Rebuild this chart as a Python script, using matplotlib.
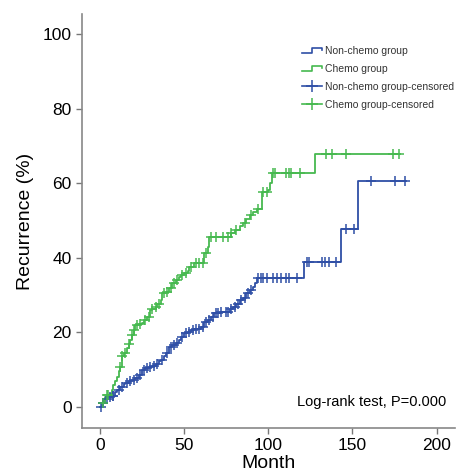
import numpy as np
import matplotlib
matplotlib.use("Agg")
import matplotlib.pyplot as plt
from matplotlib.lines import Line2D
from matplotlib.legend_handler import HandlerBase

# step curves (month of event, cumulative recurrence %)
nonchemo_t = [0, 1, 3, 5, 7, 9, 10, 12, 14, 15, 17, 19, 21, 23, 25, 27, 29, 31, 33, 35,
              36, 38, 39, 41, 43, 45, 47, 48, 50, 52, 54, 56, 58, 60, 62, 64, 66, 68, 71,
              74, 77, 79, 81, 83, 85, 87, 89, 91, 92, 93, 121, 143, 153]
nonchemo_y = [0, 1.0, 2.2, 2.5, 2.8, 4.0, 4.5, 5.4, 6.0, 6.3, 6.8, 7.2, 7.8, 8.5, 10.0, 10.3,
              10.7, 11.0, 11.6, 12.2, 12.5, 13.5, 14.3, 16.1, 16.5, 17.0, 17.9, 18.8, 19.7,
              20.2, 20.6, 20.8, 21.0, 21.5, 22.8, 23.3, 24.0, 25.1, 25.3, 25.5, 26.2, 26.8,
              27.5, 28.6, 29.1, 30.4, 31.3, 32.2, 33.1, 34.5, 38.9, 47.6, 60.6]
nonchemo_end = 181.6

chemo_t = [0, 1, 3, 4, 6, 7, 8, 9, 10, 11, 12, 13, 14, 16, 17, 18, 19, 20, 21, 23, 25, 26,
           28, 30, 31, 33, 34, 36, 37, 39, 41, 43, 45, 47, 48, 50, 52, 53, 56, 62, 64, 64.5,
           78, 80, 83, 85, 87, 89, 91, 93, 96, 96.5, 100, 101, 102, 128]
chemo_y = [0, 1.0, 2.6, 3.1, 3.5, 4.5, 5.8, 7.0, 8.0, 9.5, 10.7, 13.5, 14.3, 15.7, 16.8,
           17.9, 19.2, 20.6, 21.9, 22.2, 22.4, 23.3, 24.1, 25.9, 26.3, 26.8, 27.7, 28.6,
           30.4, 30.9, 32.0, 33.1, 34.0, 34.9, 35.3, 35.8, 36.5, 37.6, 38.5, 41.2, 42.9,
           45.6, 46.5, 47.4, 48.4, 49.2, 50.3, 51.4, 52.3, 53.2, 53.7, 57.7, 58.1, 60.0,
           62.6, 67.8]
chemo_end = 178

# censored times
nonchemo_cens = [0.5, 1.5, 2, 4, 6, 7.5, 8, 11, 13, 16, 18, 20, 22, 24, 26, 28, 30, 32, 34,
                 37, 40, 42, 44, 46, 49, 51, 53, 55, 57, 59, 61, 63, 65, 67, 69, 70, 72, 75,
                 76, 78, 80, 82, 84, 86, 88, 90, 94, 95.4, 97, 99, 103, 105, 107.5, 110.5,
                 112.5, 116.8, 123, 124, 131.8, 133.7, 136, 140, 146, 150.8, 161, 175.4, 181]
chemo_cens = [2, 4, 5, 12, 13, 15, 17, 19, 20, 22, 24, 27, 29, 31, 33, 35, 38, 40, 42, 44,
              46, 49, 51, 54, 57, 59, 61, 63, 66, 69, 73, 76, 78, 81, 86, 90, 94, 97, 99,
              103, 104, 110.5, 112.5, 113.5, 119, 134, 138, 146, 174, 177.5]

blue = "#2f4fa6"
green = "#46b94f"

plt.rcParams["font.family"] = ["Liberation Sans", "DejaVu Sans"]


def step_at(times, vals, t):
    idx = np.searchsorted(times, t, side="right") - 1
    return np.array(vals)[idx]


class StepHandler(HandlerBase):
    def create_artists(self, legend, orig_handle, xdescent, ydescent, width, height, fontsize, trans):
        x0 = -xdescent
        y0 = -ydescent
        xs = [x0, x0 + 0.5 * width, x0 + 0.5 * width, x0 + width, x0 + width]
        ys = [y0 + 0.2 * height, y0 + 0.2 * height, y0 + 0.85 * height, y0 + 0.85 * height, y0 + 0.55 * height]
        ln = Line2D(xs, ys, color=orig_handle.get_color(), lw=1.2, transform=trans)
        return [ln]


fig = plt.figure(figsize=(4.57, 4.76), dpi=100)
ax = fig.add_axes([0.1794, 0.1008, 0.8166, 0.8698])

for t, y, end, c in [(nonchemo_t, nonchemo_y, nonchemo_end, blue),
                     (chemo_t, chemo_y, chemo_end, green)]:
    ax.step(list(t) + [end], list(y) + [y[-1]], where="post", color=c, lw=1.3)

ax.plot(nonchemo_cens, step_at(nonchemo_t, nonchemo_y, nonchemo_cens), "+",
        color=blue, ms=6.5, mew=1.1)
ax.plot(chemo_cens, step_at(chemo_t, chemo_y, chemo_cens), "+",
        color=green, ms=6.5, mew=1.1)

ax.set_xlim(-10.7, 211)
ax.set_ylim(-5.7, 105.4)
ax.set_xticks([0, 50, 100, 150, 200])
ax.set_yticks([0, 20, 40, 60, 80, 100])
ax.tick_params(direction="out", length=4, width=1, color="#777777", labelsize=12.5)
for s in ["top", "right"]:
    ax.spines[s].set_visible(False)
for s in ["left", "bottom"]:
    ax.spines[s].set_color("#888888")
    ax.spines[s].set_linewidth(1.2)

ax.set_xlabel("Month", fontsize=14, labelpad=1)
ax.set_ylabel("Recurrence (%)", fontsize=14, labelpad=6)

ax.text(0.975, 0.045, "Log-rank test, P=0.000", transform=ax.transAxes,
        ha="right", va="bottom", fontsize=10.5)

h1 = Line2D([], [], color=blue)
h2 = Line2D([], [], color=green)
h3 = Line2D([], [], color=blue, marker="+", ms=9, mew=1.1, lw=1.2)
h4 = Line2D([], [], color=green, marker="+", ms=9, mew=1.1, lw=1.2)
leg = ax.legend([h1, h2, h3, h4],
                ["Non-chemo group", "Chemo group", "Non-chemo group-censored", "Chemo group-censored"],
                handler_map={h1: StepHandler(), h2: StepHandler()},
                loc="upper left", bbox_to_anchor=(0.59, 0.922), frameon=False,
                prop={"family": ["Liberation Sans", "DejaVu Sans"], "size": 7.5},
                handlelength=1.9, handletextpad=0.3, labelspacing=0.75, borderpad=0,
                borderaxespad=0)
for txt in leg.get_texts():
    txt.set_color("#333333")

fig.savefig("out.png", dpi=100)
